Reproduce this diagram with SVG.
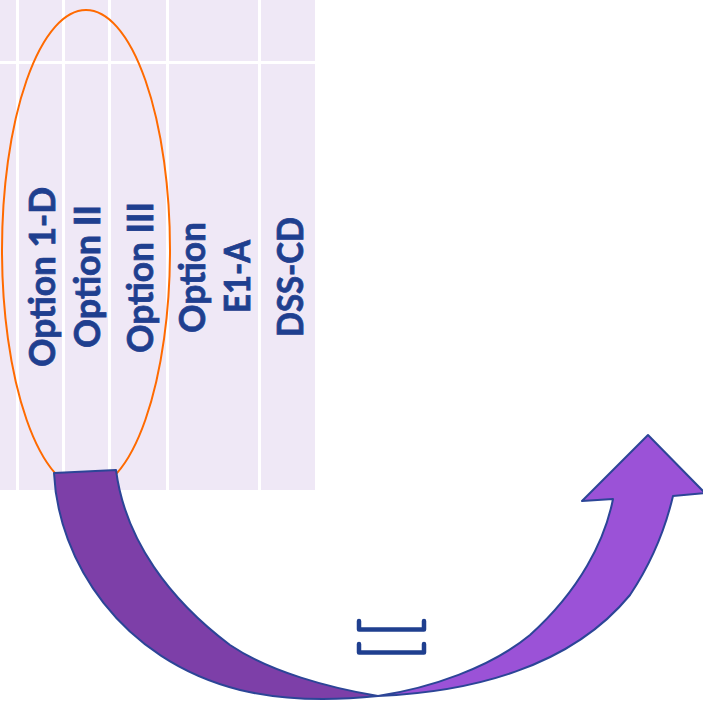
<svg xmlns="http://www.w3.org/2000/svg" width="703" height="709" viewBox="0 0 703 709">
  <style>
    .grid { stroke: #ffffff; stroke-width: 3; }
    .label { font-family: Lato, "Open Sans", "Liberation Sans", sans-serif; font-weight: bold; font-size: 36px; fill: #1f3f8f; stroke: #1f3f8f; stroke-width: 0.8; text-anchor: middle; }
    .ring { fill: none; stroke: #ff6a00; stroke-width: 2; }
    .band { stroke: #2c4597; stroke-width: 2; stroke-linejoin: round; }
    .bracket { fill: none; stroke: #1f3f8f; stroke-width: 4.5; stroke-linecap: round; stroke-linejoin: round; }
  </style>

  <rect width="703" height="709" fill="#ffffff"/>

  <!-- table background with white grid -->
  <g id="table">
    <rect x="0" y="0" width="315" height="490" fill="#efe8f6"/>
    <line class="grid" x1="0" y1="62.5" x2="315" y2="62.5"/>
    <line class="grid" x1="17.5" y1="0" x2="17.5" y2="490"/>
    <line class="grid" x1="63.5" y1="0" x2="63.5" y2="490"/>
    <line class="grid" x1="109.5" y1="0" x2="109.5" y2="490"/>
    <line class="grid" x1="167.5" y1="0" x2="167.5" y2="490"/>
    <line class="grid" x1="259.5" y1="0" x2="259.5" y2="490"/>
  </g>

  <!-- column headings, set vertically -->
  <g id="col-option-1d">
    <text class="label" transform="translate(55,277) rotate(-90)" textLength="180" lengthAdjust="spacingAndGlyphs">Option 1-D</text>
  </g>
  <g id="col-option-ii">
    <text class="label" transform="translate(100,276.5) rotate(-90)" textLength="143" lengthAdjust="spacingAndGlyphs">Option II</text>
  </g>
  <g id="col-option-iii">
    <text class="label" transform="translate(153,277.5) rotate(-90)" textLength="151" lengthAdjust="spacingAndGlyphs">Option III</text>
  </g>
  <g id="col-option-e1a">
    <text class="label" transform="translate(205,277.5) rotate(-90)" textLength="111" lengthAdjust="spacingAndGlyphs">Option</text>
    <text class="label" transform="translate(250,276.5) rotate(-90)" textLength="73" lengthAdjust="spacingAndGlyphs">E1-A</text>
  </g>
  <g id="col-dss-cd">
    <text class="label" transform="translate(303,277) rotate(-90)" textLength="120" lengthAdjust="spacingAndGlyphs">DSS-CD</text>
  </g>

  <!-- highlight ring around the first three columns -->
  <g id="highlight">
    <ellipse class="ring" cx="86" cy="250" rx="84" ry="240"/>
  </g>

  <!-- curved arrow -->
  <g id="connectors">
    <path class="band" fill="#7d3fa8"
          d="M54,473 C58,560 120,660 240,690 C290,702 340,700 378,696
             C330,688 270,672 230,645 C170,600 125,540 116,470 Z"/>
    <path class="band" fill="#9b52d7"
          d="M378,696 C470,692 570,668 630,595 C650,565 665,530 673,496
             L705,493 L648,435 L582,501 L613,499
             C605,540 580,590 530,635 C490,668 430,688 378,696 Z"/>
  </g>

  <!-- bracket marks -->
  <g id="brackets">
    <path class="bracket" d="M359,621 V629.5 H424 V621"/>
    <path class="bracket" d="M359,644 V652.5 H424 V644"/>
  </g>
</svg>
